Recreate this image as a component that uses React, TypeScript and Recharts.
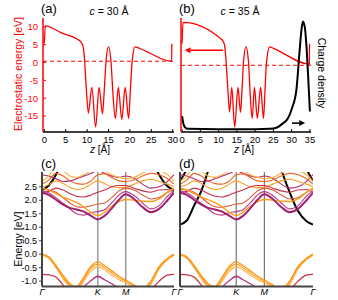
import { LineChart, Line, XAxis, YAxis, ReferenceLine } from "recharts";

const FONT = "'Liberation Sans', Arial, sans-serif";

// (a) electrostatic energy, c = 30 Å
const Z_A = [0, 0.25, 4.0, 8.4, 9.0, 9.4, 9.8, 10.3, 11.1, 12.0, 12.8, 13.6, 14.0, 14.4, 15.0, 15.6, 16.0, 16.6, 17.3, 18.1, 18.9, 19.7, 20.1, 20.5, 21.2, 22.2, 29.75, 29.8];
const V_A = [5.3, 10.3, 8.3, 6.0, 4.8, 1.0, -7.0, -14.2, -7.0, -18.1, -7.0, -14.4, -8.0, 0.0, 4.4, 0.0, -8.0, -15.7, -7.0, -16.0, -7.0, -15.7, -8.0, 0.0, 4.4, 4.0, 0.35, 5.3];

// (b) electrostatic energy, c = 35 Å
const Z_B = [0, 0.25, 11.0, 11.6, 12.0, 12.5, 13.0, 13.6, 14.4, 15.3, 16.0, 16.4, 16.8, 17.5, 18.2, 18.6, 19.2, 19.8, 20.6, 21.5, 22.3, 22.7, 23.1, 24.0, 25.0, 34.85, 34.9];
const V_B = [5.3, 11.3, 6.3, 5.0, 1.0, -7.0, -13.9, -7.0, -18.1, -7.0, -14.0, -8.0, 0.0, 4.4, 0.0, -8.0, -15.7, -7.0, -15.7, -7.0, -15.7, -8.0, 0.0, 4.4, 4.0, -0.45, 5.3];

// (b) charge density (arb. units)
const Z_RHO = [0, 0.3, 0.7, 1.5, 10, 20, 24, 26, 27.6, 29, 30, 31.3, 32.2, 32.7, 33.1, 33.6, 34.0, 34.5, 35];
const RHO = [0.14, 0.08, 0.045, 0.028, 0.025, 0.025, 0.028, 0.04, 0.076, 0.12, 0.2, 0.37, 0.72, 0.9, 0.97, 0.92, 0.78, 0.5, 0.18];

const FERMI = [0.37, -0.77];
const Z_TICKS_A = [0, 5, 10, 15, 20, 25, 30];
const Z_TICKS_B = [0, 5, 10, 15, 20, 25, 30, 35];
const V_TICKS = [-15, -10, -5, 0, 5, 10];
const ARROW_LEFT = [[11.2, 3.45], [0.7, 3.45]];
const ARROW_RIGHT = [[30.1, -17], [33.7, -17]];

// band structures (c), (d)
const K_GRID = [0, 0.12, 0.25, 0.38, 0.5, 0.62, 0.75, 0.88, 1.0, 1.12, 1.25, 1.38, 1.5, 1.65, 1.8, 1.95, 2.1, 2.25, 2.366];
const K_TICKS = [0, 1, 1.5, 2.366];
const K_LABELS = ["Γ", "K", "M", "Γ"];
const E_TICKS = [-1, -0.5, 0, 0.5, 1, 1.5, 2, 2.5];

const VB1 = [0.0, -0.1, -0.42, -0.8, -1.1, -1.2, -0.85, -0.45, -0.28, -0.42, -0.62, -0.82, -0.96, -1.14, -1.3, -1.0, -0.45, -0.15, 0.0];
const VB2 = [-0.02, -0.12, -0.46, -0.86, -1.16, -1.26, -0.92, -0.52, -0.37, -0.5, -0.7, -0.88, -1.0, -1.2, -1.36, -1.06, -0.5, -0.18, -0.02];
const VB3 = [-0.04, -0.15, -0.5, -0.92, -1.22, -1.32, -1.0, -0.62, -0.47, -0.58, -0.78, -0.95, -1.05, -1.25, -1.4, -1.12, -0.55, -0.2, -0.04];
const VB4 = [-1.5, -1.5, -1.5, -1.5, -1.45, -1.35, -1.2, -0.98, -0.82, -0.95, -1.1, -1.25, -1.35, -1.45, -1.5, -1.5, -1.5, -1.5, -1.5];
const VB5 = [-0.75, -0.77, -0.85, -1.15, -1.4, -1.6, null, null, null, null, null, null, null, null, -1.6, -1.35, -1.0, -0.78, -0.75];
const CB1 = [2.28, 2.2, 2.02, 1.84, 1.72, 1.66, 1.58, 1.42, 1.29, 1.42, 1.7, 2.02, 2.22, 2.05, 1.75, 1.56, 1.68, 2.0, 2.28];
const CB2 = [2.45, 2.38, 2.25, 2.12, 2.02, 1.92, 1.75, 1.55, 1.43, 1.55, 1.78, 1.95, 2.03, 2.0, 1.97, 1.95, 2.05, 2.3, 2.45];
const CB3 = [2.35, 2.28, 2.1, 1.88, 1.68, 1.5, 1.45, 1.55, 1.58, 1.65, 1.9, 2.2, 2.32, 2.18, 1.9, 1.68, 1.8, 2.15, 2.35];
const CB4 = [2.42, 2.38, 2.3, 2.1, 1.9, 1.76, 1.74, 1.8, 1.86, 1.9, 2.1, 2.35, 2.45, 2.38, 2.2, 2.05, 2.1, 2.3, 2.42];
const CB5 = [2.3, 2.33, 2.45, 2.38, 2.25, 2.15, 2.12, 2.2, 2.3, 2.38, 2.5, 2.55, 2.55, 2.45, 2.35, 2.3, 2.38, 2.4, 2.3];
const CB6 = [2.5, 2.58, 2.72, 2.62, 2.48, 2.4, 2.45, 2.6, 2.72, 2.62, 2.5, 2.47, 2.48, 2.6, 2.72, 2.78, 2.7, 2.6, 2.5];
const CB7 = [2.6, 2.75, 3.0, 2.9, 2.72, 2.62, 2.6, 2.72, 2.95, 2.98, 2.85, 2.72, 2.7, 2.75, 2.9, 3.0, 2.95, 2.8, 2.6];
const CB8 = [2.95, 2.9, 2.8, 2.7, 2.72, 2.8, 2.9, 3.0, 3.1, 3.0, 2.9, 2.85, 2.9, 2.82, 2.6, 2.45, 2.5, 2.7, 2.95];
const CB9 = [2.7, 2.9, 3.2, 3.1, 2.9, 2.85, 2.95, 3.1, 3.2, 3.1, 2.95, 2.85, 2.8, 2.85, 3.0, 3.15, 3.1, 2.95, 2.7];

// free-electron-like (black) bands
const BLACK_C = [2.38, 2.55, 2.95, 3.6, null, null, null, null, null, null, null, null, null, null, null, 3.6, 2.95, 2.52, 2.38];
const BLACK_D1 = [1.1, 1.25, 1.8, 2.35, 3.1, 4.0, null, null, null, null, null, null, null, 4.2, 3.15, 2.3, 1.6, 1.22, 1.1];
const BLACK_D2 = [2.72, 3.15, 3.8, null, null, null, null, null, null, null, null, null, null, null, null, null, 3.8, 3.15, 2.72];

const BANDS = [CB8, CB9, CB7, CB6, CB5, CB4, CB3, CB2, CB1, VB5, VB4, VB3, VB2, VB1];
const BAND_STYLE = [
  { color: "#a8286e", width: 1.1 },
  { color: "#ffae30", width: 1.1 },
  { color: "#ee6420", width: 1.1 },
  { color: "#ff9e20", width: 1.1 },
  { color: "#c8304a", width: 1.1 },
  { color: "#e05530", width: 1.1 },
  { color: "#b83a88", width: 1.1 },
  { color: "#ff9a10", width: 1.3 },
  { color: "#a01f70", width: 2 },
  { color: "#c8303e", width: 1.3 },
  { color: "#b0287a", width: 1.3 },
  { color: "#ffb040", width: 1.1 },
  { color: "#ffa020", width: 1.1 },
  { color: "#ff9410", width: 1.3 },
];

const potA = Z_A.map((z, i) => ({ z, v: V_A[i] }));
const potB = Z_B.map((z, i) => ({ z, v: V_B[i] }));
const rhoB = Z_RHO.map((z, i) => ({ z, rho: RHO[i] }));

const bandRows = K_GRID.map((k, i) => {
  const row: Record<string, number | null> = { k, bc: BLACK_C[i], bd1: BLACK_D1[i], bd2: BLACK_D2[i] };
  BANDS.forEach((b, j) => {
    row["b" + j] = b[i];
  });
  return row;
});

const arrowShape = (color: string) => (p: any) => {
  const { x1, y1, x2, y2 } = p;
  const dir = Math.sign(x2 - x1);
  const hl = 6;
  const hw = 3;
  return (
    <g>
      <line x1={x1} y1={y1} x2={x2 - dir * hl} y2={y2} stroke={color} strokeWidth={1.6} />
      <polygon points={`${x2},${y2} ${x2 - dir * hl},${y2 - hw} ${x2 - dir * hl},${y2 + hw}`} fill={color} />
    </g>
  );
};

const tickBlack = { fontSize: 9.5, fill: "#000", fontFamily: FONT };
const tickRed = { fontSize: 9.5, fill: "#f00", fontFamily: FONT };
const tickBand = { fontSize: 9, fill: "#000", fontFamily: FONT };
const frame = { stroke: "#000", strokeWidth: 1.5 };
const frameBand = { stroke: "#444", strokeWidth: 2 };

function Txt({ x, y, size, children, color = "#000", rotate = 0, center = false }: any) {
  return (
    <div
      style={{
        position: "absolute",
        left: x,
        top: y,
        fontSize: size,
        color,
        whiteSpace: "nowrap",
        lineHeight: 1,
        transform: center ? `translate(-50%, -50%) rotate(${rotate}deg)` : undefined,
      }}
    >
      {children}
    </div>
  );
}

function bandLines(black: string[]) {
  const out = black.map((key) => (
    <Line key={key} dataKey={key} type="monotone" stroke="#000" strokeWidth={2} dot={false} isAnimationActive={false} />
  ));
  BANDS.forEach((_, j) => {
    out.push(
      <Line
        key={"b" + j}
        dataKey={"b" + j}
        type="monotone"
        stroke={BAND_STYLE[j].color}
        strokeWidth={BAND_STYLE[j].width}
        dot={false}
        isAnimationActive={false}
      />
    );
  });
  return out;
}

export default function App() {
  return (
    <div style={{ position: "absolute", left: 0, top: 0, width: 338, height: 300, background: "#fff", overflow: "hidden", fontFamily: FONT }}>
      {/* (a) */}
      <div style={{ position: "absolute", left: 0, top: 0 }}>
        <LineChart width={180} height={158} data={potA} margin={{ top: 18, right: 6, left: 0, bottom: 0 }}>
          <XAxis type="number" dataKey="z" domain={[-0.3, 30.3]} ticks={Z_TICKS_A} interval={0} allowDataOverflow height={26}
            tickSize={-3} tickMargin={7} axisLine={frame} tickLine={{ stroke: "#000" }} tick={tickBlack} />
          <XAxis xAxisId="top" orientation="top" type="number" domain={[-0.3, 30.3]} height={0} tick={false} tickLine={false} axisLine={frame} />
          <YAxis type="number" domain={[-19.5, 12.5]} ticks={V_TICKS} interval={0} allowDataOverflow width={43}
            tickSize={-3} tickMargin={8} axisLine={{ stroke: "#f00", strokeWidth: 1.5 }} tickLine={{ stroke: "#f00" }} tick={tickRed} />
          <YAxis yAxisId="right" orientation="right" type="number" domain={[0, 1]} width={0} tick={false} tickLine={false} axisLine={frame} />
          <ReferenceLine y={FERMI[0]} stroke="#f00" strokeWidth={1} strokeDasharray="4 3" />
          <Line dataKey="v" type="monotone" stroke="#f00" strokeWidth={1.3} dot={false} isAnimationActive={false} />
        </LineChart>
      </div>

      {/* (b) */}
      <div style={{ position: "absolute", left: 175, top: 0 }}>
        <LineChart width={163} height={158} margin={{ top: 18, right: 27, left: 0, bottom: 0 }}>
          <XAxis type="number" dataKey="z" domain={[-0.3, 35.3]} ticks={Z_TICKS_B} interval={0} allowDataOverflow height={26}
            tickSize={-3} tickMargin={7} axisLine={frame} tickLine={{ stroke: "#000" }} tick={tickBlack} />
          <XAxis xAxisId="top" orientation="top" type="number" domain={[-0.3, 35.3]} height={0} tick={false} tickLine={false} axisLine={frame} />
          <YAxis type="number" domain={[-19.5, 12.5]} ticks={V_TICKS} interval={0} allowDataOverflow width={6}
            tickSize={-3} tick={false} axisLine={{ stroke: "#f00", strokeWidth: 1.5 }} tickLine={{ stroke: "#f00" }} />
          <YAxis yAxisId="rho" orientation="right" type="number" domain={[0, 1]} allowDataOverflow width={0} tick={false} tickLine={false} axisLine={frame} />
          <ReferenceLine y={FERMI[1]} stroke="#f00" strokeWidth={1} strokeDasharray="4 3" />
          <Line data={potB} dataKey="v" type="monotone" stroke="#f00" strokeWidth={1.3} dot={false} isAnimationActive={false} />
          <Line data={rhoB} dataKey="rho" yAxisId="rho" type="monotone" stroke="#000" strokeWidth={2} dot={false} isAnimationActive={false} />
          <ReferenceLine segment={ARROW_LEFT.map(([x, y]) => ({ x, y }))} shape={arrowShape("#f00")} />
          <ReferenceLine segment={ARROW_RIGHT.map(([x, y]) => ({ x, y }))} shape={arrowShape("#000")} />
        </LineChart>
      </div>

      {/* (c) */}
      <div style={{ position: "absolute", left: 0, top: 152 }}>
        <LineChart width={180} height={148} data={bandRows} margin={{ top: 20, right: 6, left: 0, bottom: 0 }}>
          <XAxis type="number" dataKey="k" domain={[0, 2.366]} ticks={K_TICKS} interval={0} allowDataOverflow height={13.5}
            tickLine={false} tickSize={0} tickMargin={2} axisLine={frameBand}
            tick={{ ...tickBand, fontStyle: "italic" }} tickFormatter={(v: number) => K_LABELS[K_TICKS.indexOf(v)]} />
          <XAxis xAxisId="top" orientation="top" type="number" domain={[0, 2.366]} height={0} tick={false} tickLine={false} axisLine={frameBand} />
          <YAxis type="number" domain={[-1.2, 3.05]} ticks={E_TICKS} interval={0} allowDataOverflow width={42}
            tickSize={3} tickMargin={2} axisLine={frameBand} tickLine={{ stroke: "#444" }} tick={tickBand}
            tickFormatter={(v: number) => v.toFixed(1)} />
          <YAxis yAxisId="right" orientation="right" type="number" domain={[0, 1]} width={0} tick={false} tickLine={false} axisLine={frameBand} />
          <ReferenceLine x={K_TICKS[1]} stroke="#999" strokeWidth={1.5} />
          <ReferenceLine x={K_TICKS[2]} stroke="#999" strokeWidth={1.5} />
          {bandLines(["bc"])}
        </LineChart>
      </div>

      {/* (d) */}
      <div style={{ position: "absolute", left: 175, top: 152 }}>
        <LineChart width={163} height={148} data={bandRows} margin={{ top: 20, right: 25, left: 0, bottom: 0 }}>
          <XAxis type="number" dataKey="k" domain={[0, 2.366]} ticks={K_TICKS} interval={0} allowDataOverflow height={13.5}
            tickLine={false} tickSize={0} tickMargin={2} axisLine={frameBand}
            tick={{ ...tickBand, fontStyle: "italic" }} tickFormatter={(v: number) => K_LABELS[K_TICKS.indexOf(v)]} />
          <XAxis xAxisId="top" orientation="top" type="number" domain={[0, 2.366]} height={0} tick={false} tickLine={false} axisLine={frameBand} />
          <YAxis type="number" domain={[-1.2, 3.05]} ticks={E_TICKS} interval={0} allowDataOverflow width={5}
            tickSize={-3} tick={false} axisLine={frameBand} tickLine={{ stroke: "#444" }} />
          <YAxis yAxisId="right" orientation="right" type="number" domain={[0, 1]} width={0} tick={false} tickLine={false} axisLine={frameBand} />
          <ReferenceLine x={K_TICKS[1]} stroke="#333" strokeWidth={0.8} />
          <ReferenceLine x={K_TICKS[2]} stroke="#333" strokeWidth={0.8} />
          {bandLines(["bd1", "bd2"])}
        </LineChart>
      </div>

      {/* labels */}
      <Txt x={41} y={2} size={13}>(a)</Txt>
      <Txt x={109} y={11} size={10.5} center><i>c</i> = 30 Å</Txt>
      <Txt x={179} y={2} size={13}>(b)</Txt>
      <Txt x={240} y={11} size={10.5} center><i>c</i> = 35 Å</Txt>
      <Txt x={100} y={150} size={10} center><i>z</i> [Å]</Txt>
      <Txt x={244} y={150} size={10} center><i>z</i> [Å]</Txt>
      <Txt x={41} y={157} size={13}>(c)</Txt>
      <Txt x={179} y={157} size={13}>(d)</Txt>
      <Txt x={18} y={74} size={10.5} color="#f00" rotate={-90} center>Electrostatic energy [eV]</Txt>
      <Txt x={18} y={239} size={10.5} rotate={-90} center>Energy [eV]</Txt>
      <Txt x={322} y={73} size={10.5} rotate={90} center>Charge density</Txt>
    </div>
  );
}
